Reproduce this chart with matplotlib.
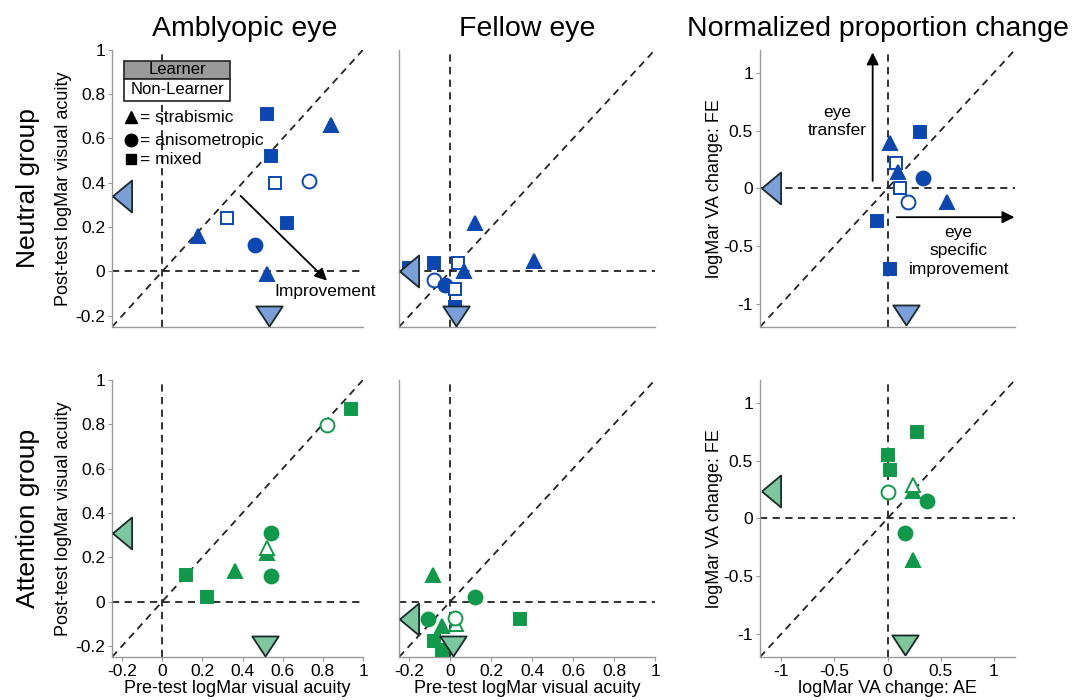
import matplotlib
matplotlib.use("Agg")
import matplotlib.pyplot as plt
from matplotlib.patches import Rectangle

plt.rcParams['font.family'] = ['Liberation Sans', 'DejaVu Sans']

BLUE = '#0a47b0'
LBLUE = '#7b9fd8'
GREEN = '#10994a'
LGREEN = '#7cc79d'

# shapes: t = strabismic, c = anisometropic, s = mixed ; filled 1 = learner
# Neutral group - amblyopic eye
na_x = [0.52, 0.84, 0.54, 0.56, 0.73, 0.32, 0.62, 0.18, 0.46, 0.52]
na_y = [0.71, 0.66, 0.52, 0.40, 0.41, 0.24, 0.22, 0.16, 0.12, -0.01]
na_shape = ['s', 't', 's', 's', 'c', 's', 's', 't', 'c', 't']
na_fill = [1, 1, 1, 0, 0, 0, 1, 1, 1, 1]
na_mean = (0.53, 0.34)  # x mean, y mean

# Neutral group - fellow eye
nf_x = [0.12, 0.41, -0.08, -0.20, 0.04, 0.065, -0.08, -0.025, 0.025, 0.025]
nf_y = [0.22, 0.045, 0.04, 0.015, 0.04, 0.0, -0.04, -0.06, -0.08, -0.16]
nf_shape = ['t', 't', 's', 's', 's', 't', 'c', 'c', 's', 's']
nf_fill = [1, 1, 1, 1, 0, 1, 0, 1, 0, 1]
nf_mean = (0.03, 0.0)

# Neutral group - normalized change
nn_x = [0.31, 0.02, 0.08, 0.10, 0.33, 0.12, 0.19, 0.56, -0.10, 0.02]
nn_y = [0.49, 0.39, 0.22, 0.14, 0.09, 0.0, -0.12, -0.12, -0.28, -0.70]
nn_shape = ['s', 't', 's', 't', 'c', 's', 'c', 't', 's', 's']
nn_fill = [1, 1, 0, 1, 1, 0, 0, 1, 1, 1]
nn_mean = (0.17, 0.0)

# Attention group - amblyopic eye
aa_x = [0.94, 0.82, 0.54, 0.52, 0.52, 0.36, 0.54, 0.12, 0.225]
aa_y = [0.87, 0.795, 0.31, 0.22, 0.24, 0.14, 0.115, 0.12, 0.02]
aa_shape = ['s', 'c', 'c', 't', 't', 't', 'c', 's', 's']
aa_fill = [1, 0, 1, 1, 0, 1, 1, 1, 1]
aa_mean = (0.51, 0.31)

# Attention group - fellow eye
af_x = [-0.085, 0.12, 0.34, 0.03, 0.025, -0.11, -0.04, -0.08, -0.04]
af_y = [0.12, 0.02, -0.08, -0.10, -0.075, -0.08, -0.11, -0.18, -0.22]
af_shape = ['t', 'c', 's', 't', 'c', 'c', 't', 's', 's']
af_fill = [1, 1, 1, 0, 0, 1, 1, 1, 1]
af_mean = (0.015, -0.08)

# Attention group - normalized change
an_x = [0.28, 0.0, 0.02, 0.24, 0.24, 0.0, 0.37, 0.16, 0.24]
an_y = [0.75, 0.55, 0.415, 0.24, 0.29, 0.23, 0.15, -0.13, -0.36]
an_shape = ['s', 's', 's', 't', 't', 'c', 'c', 'c', 't']
an_fill = [1, 1, 1, 1, 0, 0, 1, 1, 1]
an_mean = (0.16, 0.24)

col_titles = ['Amblyopic eye', 'Fellow eye', 'Normalized proportion change']
row_titles = ['Neutral group', 'Attention group']

mk = {'s': ('s', 8), 't': ('^', 10), 'c': ('o', 10)}
# narrow triangles for the group means
left_tri = [(-0.6, 0), (0.6, 1), (0.6, -1), (-0.6, 0)]
down_tri = [(0, -0.76), (1, 0.76), (-1, 0.76), (0, -0.76)]

fig = plt.figure(figsize=(10.73, 7.0), dpi=100)
lefts = [0.1044, 0.3719, 0.7083]
widths = [0.234, 0.2386, 0.2377]
bottoms = [0.533, 0.0614]
height = 0.396
title_x = [0.53, 0.5, 0.463]

panels = [
    [(na_x, na_y, na_shape, na_fill, na_mean), (nf_x, nf_y, nf_shape, nf_fill, nf_mean), (nn_x, nn_y, nn_shape, nn_fill, nn_mean)],
    [(aa_x, aa_y, aa_shape, aa_fill, aa_mean), (af_x, af_y, af_shape, af_fill, af_mean), (an_x, an_y, an_shape, an_fill, an_mean)],
]

axes = {}
for r in range(2):
    col = BLUE if r == 0 else GREEN
    lcol = LBLUE if r == 0 else LGREEN
    for c in range(3):
        ax = fig.add_axes([lefts[c], bottoms[r], widths[c], height])
        axes[(r, c)] = ax
        if c < 2:
            lo, hi = -0.25, 1.0
            ax.set_xlim(lo, hi)
            ax.set_ylim(lo, hi)
            ax.set_xticks([-0.2, 0, 0.2, 0.4, 0.6, 0.8, 1])
            ax.set_xticklabels(['-0.2', '0', '0.2', '0.4', '0.6', '0.8', '1'])
            ax.set_yticks([-0.2, 0, 0.2, 0.4, 0.6, 0.8, 1])
            ax.set_yticklabels(['-0.2', '0', '0.2', '0.4', '0.6', '0.8', '1'])
            edge_x = -0.2
            edge_y = -0.2
        else:
            lo, hi = -1.2, 1.2
            ax.set_xlim(lo, hi)
            ax.set_ylim(lo, hi)
            ax.set_xticks([-1, -0.5, 0, 0.5, 1])
            ax.set_xticklabels(['-1', '-0.5', '0', '0.5', '1'])
            ax.set_yticks([-1, -0.5, 0, 0.5, 1])
            ax.set_yticklabels(['-1', '-0.5', '0', '0.5', '1'])
            edge_x = -1.1
            edge_y = -1.1
        for s in ['top', 'right']:
            ax.spines[s].set_visible(False)
        for s in ['left', 'bottom']:
            ax.spines[s].set_color('#999999')
            ax.spines[s].set_linewidth(1.0)
        ax.tick_params(length=3, width=0.8, color='#999999', labelsize=12.5, pad=2)
        if r == 0:
            ax.tick_params(axis='x', labelbottom=False, length=0)
        if c == 1:
            ax.tick_params(axis='y', labelleft=False, length=0)
        ax.plot([lo, hi], [lo, hi], ls=(0, (4, 3)), color='#222222', lw=1.3, zorder=1)
        ax.axhline(0, ls=(0, (4, 3)), color='#222222', lw=1.3, zorder=1)
        ax.axvline(0, ls=(0, (4, 3)), color='#222222', lw=1.3, zorder=1)

        xs, ys, shapes, fills, mean = panels[r][c]
        for x, y, sh, f in zip(xs, ys, shapes, fills):
            m, ms = mk[sh]
            ax.plot(x, y, marker=m, ms=ms, mfc=col if f else 'white', mec=col,
                    mew=1.4, ls='none', zorder=3)
        # group means on the margins
        ax.plot(edge_x, mean[1], marker=left_tri, ms=23, mfc=lcol, mec='#1a2a2a', mew=1.3,
                ls='none', zorder=4, clip_on=False)
        ax.plot(mean[0], edge_y, marker=down_tri, ms=19, mfc=lcol,
                mec='#1a2a2a', mew=1.3, ls='none', zorder=4, clip_on=False)

        if r == 0:
            ax.set_title(col_titles[c], fontsize=20.5, pad=10, x=title_x[c])
        if r == 1:
            if c < 2:
                ax.set_xlabel('Pre-test logMar visual acuity', fontsize=13, labelpad=1)
            else:
                ax.set_xlabel('logMar VA change: AE', fontsize=13, labelpad=1)
        if c == 0:
            ax.set_ylabel('Post-test logMar visual acuity', fontsize=13, labelpad=2)
        if c == 2:
            ax.set_ylabel('logMar VA change: FE', fontsize=13, labelpad=0)

for r in range(2):
    fig.text(0.026, bottoms[r] + height / 2, row_titles[r], rotation=90,
             ha='center', va='center', fontsize=19)

# legend box and annotations on the first panel
ax = axes[(0, 0)]
ax.add_patch(Rectangle((0.048, 0.896), 0.422, 0.064, transform=ax.transAxes,
                       facecolor='#9a9a9a', edgecolor='#222222', lw=1.2, zorder=5))
ax.add_patch(Rectangle((0.048, 0.816), 0.422, 0.080, transform=ax.transAxes,
                       facecolor='white', edgecolor='#222222', lw=1.2, zorder=5))
ax.text(0.259, 0.928, 'Learner', transform=ax.transAxes, ha='center', va='center',
        fontsize=12, zorder=6)
ax.text(0.259, 0.856, 'Non-Learner', transform=ax.transAxes, ha='center', va='center',
        fontsize=12, zorder=6)
leg = [('^', 'strabismic', 0.756, 9), ('o', 'anisometropic', 0.674, 9), ('s', 'mixed', 0.604, 7)]
for m, lab, yy, ms in leg:
    ax.plot(0.075, yy, marker=m, ms=ms, color='black', transform=ax.transAxes, ls='none')
    ax.text(0.11, yy, '= ' + lab, transform=ax.transAxes, ha='left', va='center',
            fontsize=12.5)
ax.annotate('', xy=(0.83, -0.05), xytext=(0.38, 0.35),
            arrowprops=dict(arrowstyle='-|>', color='black', lw=1.3, mutation_scale=18))
ax.text(0.81, -0.09, 'Improvement', ha='center', va='center', fontsize=12.5)

ax = axes[(0, 2)]
ax.annotate('', xy=(-0.14, 1.2), xytext=(-0.14, 0.04),
            arrowprops=dict(arrowstyle='-|>', color='black', lw=1.3, mutation_scale=18),
            annotation_clip=False)
ax.text(-0.47, 0.58, 'eye\ntransfer', ha='center', va='center', fontsize=12.5,
        linespacing=1.3)
ax.annotate('', xy=(1.22, -0.25), xytext=(0.06, -0.25),
            arrowprops=dict(arrowstyle='-|>', color='black', lw=1.3, mutation_scale=18),
            annotation_clip=False)
ax.text(0.67, -0.54, 'eye\nspecific\nimprovement', ha='center', va='center',
        fontsize=12.5, linespacing=1.3)

fig.savefig('out.png', dpi=100)
